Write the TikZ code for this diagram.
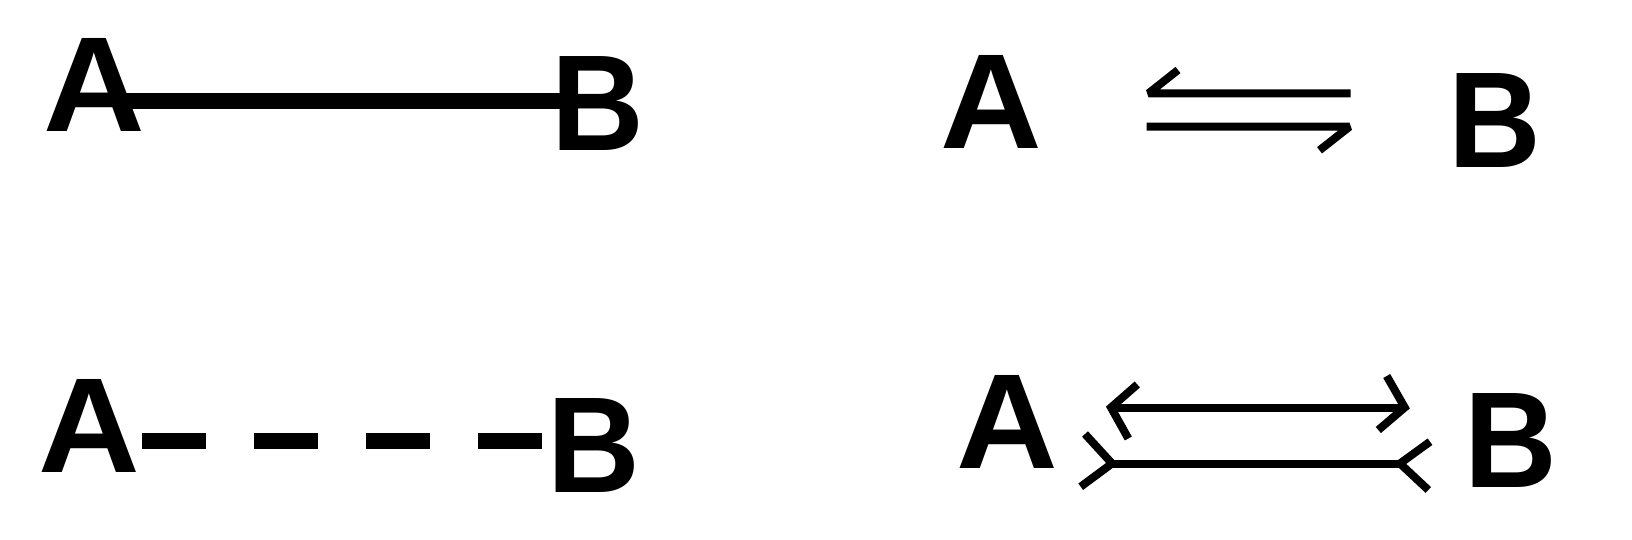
\documentclass[tikz,border=0pt]{standalone}
\usepackage{fontspec}
\setmainfont{Liberation Sans}
\usetikzlibrary{calc}
\begin{document}
\begin{tikzpicture}[x=1pt,y=-1pt,
  lbl/.style={inner sep=0pt,outer sep=0pt,font=\fontsize{138}{138}\selectfont\bfseries},
  lblA/.style={lbl,xscale=1.02,yscale=0.98,transform shape},
  lblB/.style={lbl,xscale=0.93,yscale=0.99,transform shape},
  thickbond/.style={line width=16pt,line cap=butt},
  dashbond/.style={line width=16pt,line cap=butt,dash pattern=on 64pt off 48.2pt},
  thinarrow/.style={line width=8pt,line cap=butt},
  ]
\useasboundingbox[fill=white] (0,0) rectangle (1632,540);

% letters
\node[lblA] (A1) at (94.7,85) {A};
\node[lblB] (B1) at (598,104) {B};
\node[lblA] (A2) at (89.7,425.7) {A};
\node[lblB] (B2) at (593.5,445) {B};
\node[lblA] (A3) at (991,101.5) {A};
\node[lblB] (B3) at (1495,120.5) {B};
\node[lblA] (A4) at (1007,421.5) {A};
\node[lblB] (B4) at (1511,440) {B};

% panel 1: solid bond
\draw[thickbond] ($(A1.east |- 0,101.2)+(-22,0)$) -- ($(B1.west |- 0,101.2)+(14,0)$);

% panel 2: dashed bond
\draw[dashbond] ($(A2.east |- 0,441.3)+(1.3,0)$) -- ($(B2.west |- 0,441.3)+(-4,0)$);

% panel 3: harpoons
\coordinate (t1) at (1148.5,93.3);
\coordinate (t1b) at (1178,70);
\coordinate (t2) at (1350.7,93.3);
\draw[thinarrow,line join=bevel] (t1b) -- (t1) -- (t2);
\coordinate (h1) at (1146.7,126.7);
\coordinate (h2) at (1349.5,126.7);
\coordinate (h2b) at (1319.5,150.3);
\draw[thinarrow,line join=bevel] (h1) -- (h2) -- (h2b);

% panel 4: top arrow
\coordinate (V1) at (1111,407.5);
\coordinate (u1) at (1137.3,384.5);
\coordinate (l1) at (1128.3,438.5);
\coordinate (V2) at (1404.7,407.5);
\coordinate (u2) at (1386.7,376);
\coordinate (l2) at (1378.3,430);
\draw[thinarrow,line join=miter] (u1) -- (V1) -- (l1);
\draw[thinarrow] (V1) -- (V2);
\draw[thinarrow,line join=miter] (u2) -- (V2) -- (l2);

% panel 4: bottom line with tails
\coordinate (J1) at (1112,463.5);
\coordinate (a1) at (1085,434);
\coordinate (c1) at (1080.7,486.7);
\coordinate (J2) at (1400,463.5);
\coordinate (a2) at (1430,441.7);
\coordinate (c2) at (1428.3,490);
\draw[thinarrow,line join=miter] (a1) -- (J1) -- (c1);
\draw[thinarrow] (J1) -- (J2);
\draw[thinarrow,line join=miter] (a2) -- (J2) -- (c2);
\end{tikzpicture}
\end{document}
